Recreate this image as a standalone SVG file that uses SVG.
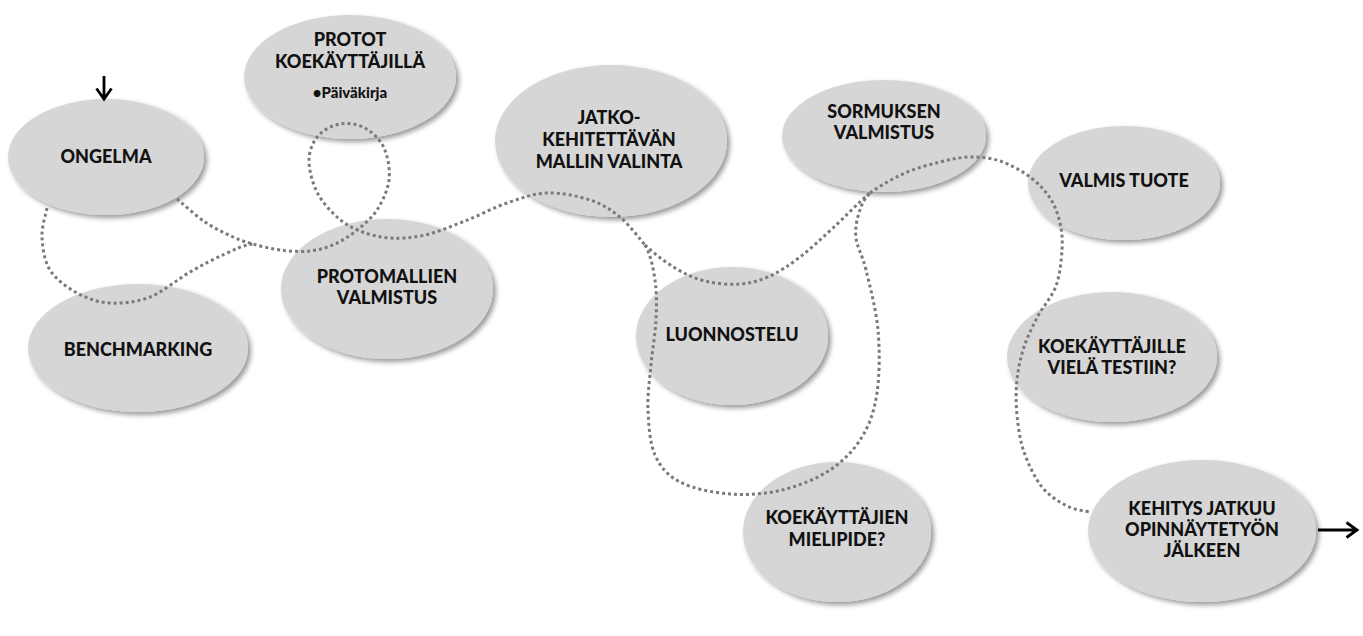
<svg xmlns="http://www.w3.org/2000/svg" width="1363" height="636" viewBox="0 0 1363 636">
<defs>
<filter id="sh" x="-20%" y="-20%" width="140%" height="150%">
<feDropShadow dx="3" dy="3" stdDeviation="2.5" flood-color="#000" flood-opacity="0.4"/>
</filter>
</defs>
<style>
.n{fill:#d6d6d6;filter:url(#sh)}
.t{font-family:Lato,"Open Sans","Liberation Sans",sans-serif;font-weight:900;font-size:18px;fill:#111;text-anchor:middle}
.s{font-size:15px}
.d{fill:none;stroke:#7a7a7a;stroke-width:3;stroke-dasharray:3 3}
.a{fill:none;stroke:#000;stroke-width:2.8}
</style>
<rect width="1363" height="636" fill="#fff"/>
<g id="ongelma"><ellipse class="n" cx="106" cy="157" rx="98" ry="58"/><text class="t" x="106" y="163">ONGELMA</text></g>
<g id="protot"><ellipse class="n" cx="350" cy="77" rx="106" ry="62"/><text class="t" x="350" y="46">PROTOT</text><text class="t" x="350" y="68">KOEKÄYTTÄJILLÄ</text><text class="t s" x="350" y="98">•Päiväkirja</text></g>
<g id="benchmarking"><ellipse class="n" cx="138" cy="348" rx="110" ry="64"/><text class="t" x="138" y="356">BENCHMARKING</text></g>
<g id="protomallien"><ellipse class="n" cx="387" cy="289" rx="106" ry="70"/><text class="t" x="387" y="283">PROTOMALLIEN</text><text class="t" x="387" y="304">VALMISTUS</text></g>
<g id="jatko"><ellipse class="n" cx="611" cy="141" rx="116" ry="76"/><text class="t" x="609" y="124">JATKO-</text><text class="t" x="609" y="146">KEHITETTÄVÄN</text><text class="t" x="609" y="168">MALLIN VALINTA</text></g>
<g id="luonnostelu"><ellipse class="n" cx="732" cy="336" rx="96" ry="69"/><text class="t" x="732" y="341">LUONNOSTELU</text></g>
<g id="sormuksen"><ellipse class="n" cx="884" cy="136" rx="102" ry="56"/><text class="t" x="884" y="118">SORMUKSEN</text><text class="t" x="884" y="139">VALMISTUS</text></g>
<g id="mielipide"><ellipse class="n" cx="837" cy="532" rx="94" ry="70"/><text class="t" x="837" y="524">KOEKÄYTTÄJIEN</text><text class="t" x="837" y="546">MIELIPIDE?</text></g>
<g id="valmis"><ellipse class="n" cx="1124" cy="183" rx="96" ry="57"/><text class="t" x="1124" y="187">VALMIS TUOTE</text></g>
<g id="testiin"><ellipse class="n" cx="1112" cy="357" rx="105" ry="65"/><text class="t" x="1112" y="353">KOEKÄYTTÄJILLE</text><text class="t" x="1112" y="374">VIELÄ TESTIIN?</text></g>
<g id="kehitys"><ellipse class="n" cx="1202" cy="531" rx="114" ry="71"/><text class="t" x="1202" y="515">KEHITYS JATKUU</text><text class="t" x="1202" y="536">OPINNÄYTETYÖN</text><text class="t" x="1202" y="557">JÄLKEEN</text></g>
<g id="connectors">
<path class="d" d="M177,199 C181.7,202.8 195.7,215.7 205,222 C214.3,228.3 225,233.3 233,237 C241,240.7 245.2,241.8 253,244 C260.8,246.2 270.5,248.8 280,250 C289.5,251.2 300.8,252 310,251 C319.2,250 327.2,247.5 335,244 C342.8,240.5 350,235.7 357,230 C364,224.3 371.7,218.3 377,210 C382.3,201.7 387.8,190.3 389,180 C390.2,169.7 388,156.7 384,148 C380,139.3 372.3,132 365,128 C357.7,124 347.8,122.7 340,124 C332.2,125.3 323.2,130 318,136 C312.8,142 309.2,150.7 309,160 C308.8,169.3 312.3,182.5 317,192 C321.7,201.5 329.8,210.5 337,217 C344.2,223.5 351.2,227.5 360,231 C368.8,234.5 379.2,237.3 390,238 C400.8,238.7 412.5,237.8 425,235 C437.5,232.2 451.3,226.3 465,221 C478.7,215.7 493.3,207.7 507,203 C520.7,198.3 533.2,193.5 547,193 C560.8,192.5 577.8,196 590,200 C602.2,204 610.8,209.5 620,217 C629.2,224.5 640.8,240.3 645,245"/>
<path class="d" d="M47,208 C46.2,212.8 41.5,226.7 42,237 C42.5,247.3 44.2,260.7 50,270 C55.8,279.3 67,287.5 77,293 C87,298.5 97.8,302.3 110,303 C122.2,303.7 136.7,302.2 150,297 C163.3,291.8 177.5,279.2 190,272 C202.5,264.8 214.5,258.7 225,254 C235.5,249.3 243.8,244.7 253,244"/>
<path class="d" d="M645,245 C654.2,253.5 665,262 675,268 C685,274 694.2,278.3 705,281 C715.8,283.7 729.2,284.8 740,284 C750.8,283.2 760,280.5 770,276 C780,271.5 789.5,265 800,257 C810.5,249 821.3,238.7 833,228 C844.7,217.3 859.3,201.5 870,193"/>
<path class="d" d="M645,245 C650.8,255.5 653.2,267.5 655,280 C656.8,292.5 656.7,305.8 656,320 C655.3,334.2 652.3,350 651,365 C649.7,380 647.3,395 648,410 C648.7,425 649.7,443 655,455 C660.3,467 667.5,475.5 680,482 C692.5,488.5 713,492.7 730,494 C747,495.3 765.3,494 782,490 C798.7,486 816.7,478.8 830,470 C843.3,461.2 854.2,449.8 862,437 C869.8,424.2 874.3,410.8 877,393 C879.7,375.2 879.8,350.5 878,330 C876.2,309.5 869.7,285.3 866,270 C862.3,254.7 857.2,247.5 856,238 C854.8,228.5 856.7,220.5 859,213 C861.3,205.5 863.7,199 870,193"/>
<path class="d" d="M870,193 C882,184.5 893.3,178.2 905,173 C916.7,167.8 929.2,164.7 940,162 C950.8,159.3 960,157.2 970,157 C980,156.8 990,157.7 1000,161 C1010,164.3 1021.7,170.8 1030,177 C1038.3,183.2 1045,190.3 1050,198 C1055,205.7 1058,214.3 1060,223 C1062,231.7 1062.7,239.5 1062,250 C1061.3,260.5 1060,275 1056,286 C1052,297 1043.3,305.8 1038,316 C1032.7,326.2 1027.5,336.3 1024,347 C1020.5,357.7 1018.2,368.7 1017,380 C1015.8,391.3 1015.8,403 1017,415 C1018.2,427 1019.8,440 1024,452 C1028.2,464 1034.8,478 1042,487 C1049.2,496 1059,501.8 1067,506 C1075,510.2 1086.2,511 1090,512"/>
<path class="a" d="M104,76 L104,99 M96.5,88.5 L104,99 L111.5,88.5"/>
<path class="a" d="M1318,530 L1357,530 M1346.5,522.5 L1357,530 L1346.5,537.5"/>
</g>
</svg>
